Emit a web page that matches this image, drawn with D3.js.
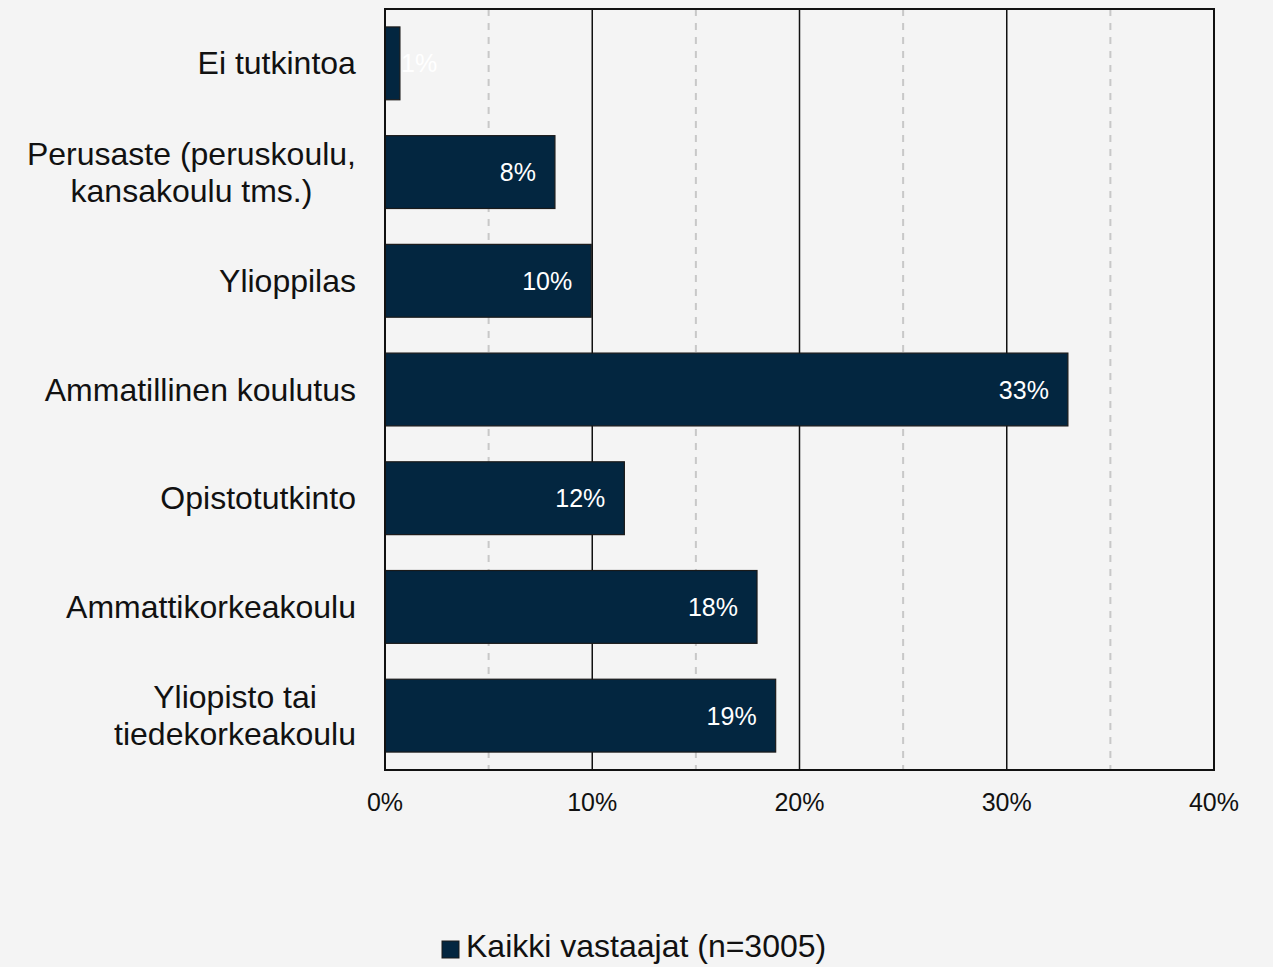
<!DOCTYPE html>
<html>
<head>
<meta charset="utf-8">
<script src="https://cdn.jsdelivr.net/npm/d3@7"></script>
<style>
  html, body { margin: 0; padding: 0; background: #f4f4f4; }
  svg { display: block; font-family: Arial, "Liberation Sans", sans-serif; }
</style>
</head>
<body>
<div class="container"></div>
<script>
"use strict";

var width = 1273;
var height = 967;

// categories, top to bottom ("\n" marks a line break in the label)
var categories = [
    "Ei tutkintoa",
    "Perusaste (peruskoulu,\nkansakoulu tms.)",
    "Ylioppilas",
    "Ammatillinen koulutus",
    "Opistotutkinto",
    "Ammattikorkeakoulu",
    "Yliopisto tai\ntiedekorkeakoulu"
];

// share of respondents, percent
var values = [0.72, 8.2, 9.95, 32.95, 11.55, 17.95, 18.85];

var seriesName = "Kaikki vastaajat (n=3005)";
var xTicks = [0, 10, 20, 30, 40];
var xMinorTicks = [5, 15, 25, 35];

var barColor = "#032640";

// plot box
var plotLeft = 385, plotRight = 1214, plotTop = 9, plotBottom = 770;

var x = d3.scaleLinear().domain([0, 40]).range([plotLeft, plotRight]);
var y = d3.scaleBand()
    .domain(categories)
    .range([plotTop, plotBottom])
    .paddingInner(0.33)
    .paddingOuter(0.165);

var svg = d3.select(".container").append("svg")
    .attr("width", width)
    .attr("height", height);

svg.append("rect")
    .attr("width", width)
    .attr("height", height)
    .attr("fill", "#f4f4f4");

// dashed minor gridlines
svg.append("g").selectAll("line")
    .data(xMinorTicks)
    .enter().append("line")
    .attr("x1", d => x(d)).attr("x2", d => x(d))
    .attr("y1", plotTop).attr("y2", plotBottom)
    .attr("stroke", "#c8c8c8")
    .attr("stroke-width", 2)
    .attr("stroke-dasharray", "7,7");

// solid major gridlines
svg.append("g").selectAll("line")
    .data(xTicks.slice(1, -1))
    .enter().append("line")
    .attr("x1", d => x(d)).attr("x2", d => x(d))
    .attr("y1", plotTop).attr("y2", plotBottom)
    .attr("stroke", "#111")
    .attr("stroke-width", 1.5);

// bars
var bars = svg.append("g").selectAll("g")
    .data(categories.map((c, i) => ({cat: c, value: values[i]})))
    .enter().append("g");

bars.append("rect")
    .attr("x", x(0))
    .attr("y", d => y(d.cat))
    .attr("width", d => x(d.value) - x(0))
    .attr("height", y.bandwidth())
    .attr("fill", barColor)
    .attr("stroke", "#1a1a1a")
    .attr("stroke-width", 1.2);

// value labels, inside end (pushed out when the bar is too short)
bars.append("text")
    .attr("y", d => y(d.cat) + y.bandwidth() / 2 + 9)
    .attr("fill", "#fff")
    .attr("font-size", 25)
    .text(d => Math.round(d.value) + "%")
    .each(function(d) {
        var w = this.getComputedTextLength();
        var lx = Math.max(x(d.value) - 19 - w, x(0) + 16);
        d3.select(this).attr("x", lx);
    });

// plot frame
svg.append("rect")
    .attr("x", plotLeft).attr("y", plotTop)
    .attr("width", plotRight - plotLeft).attr("height", plotBottom - plotTop)
    .attr("fill", "none")
    .attr("stroke", "#111")
    .attr("stroke-width", 2);

// x tick labels
svg.append("g").selectAll("text")
    .data(xTicks)
    .enter().append("text")
    .attr("x", d => x(d))
    .attr("y", 811)
    .attr("text-anchor", "middle")
    .attr("font-size", 25)
    .attr("fill", "#111")
    .text(d => d + "%");

// category labels
var lineHeight = 37;
svg.append("g").selectAll("text")
    .data(categories)
    .enter().append("text")
    .attr("text-anchor", "middle")
    .attr("font-size", 32)
    .attr("fill", "#111")
    .each(function(d) {
        var lines = d.split("\n");
        var t = d3.select(this);
        var cy = y(d) + y.bandwidth() / 2 + 11 - (lines.length - 1) * lineHeight / 2;
        lines.forEach((l, i) => {
            t.append("tspan")
                .attr("x", 0)
                .attr("y", cy + i * lineHeight)
                .text(l);
        });
    })
    .each(function() {
        // right-align the block, each line centred in it
        var w = this.getBBox().width;
        d3.select(this).attr("transform", "translate(" + (356 - w / 2) + ",0)");
    });

// legend
var legend = svg.append("g");
legend.append("rect")
    .attr("x", 442).attr("y", 941)
    .attr("width", 17).attr("height", 17)
    .attr("fill", barColor)
    .attr("stroke", "#1a1a1a")
    .attr("stroke-width", 1);
legend.append("text")
    .attr("x", 466)
    .attr("y", 957)
    .attr("font-size", 32)
    .attr("fill", "#111")
    .text(seriesName);
</script>
</body>
</html>
